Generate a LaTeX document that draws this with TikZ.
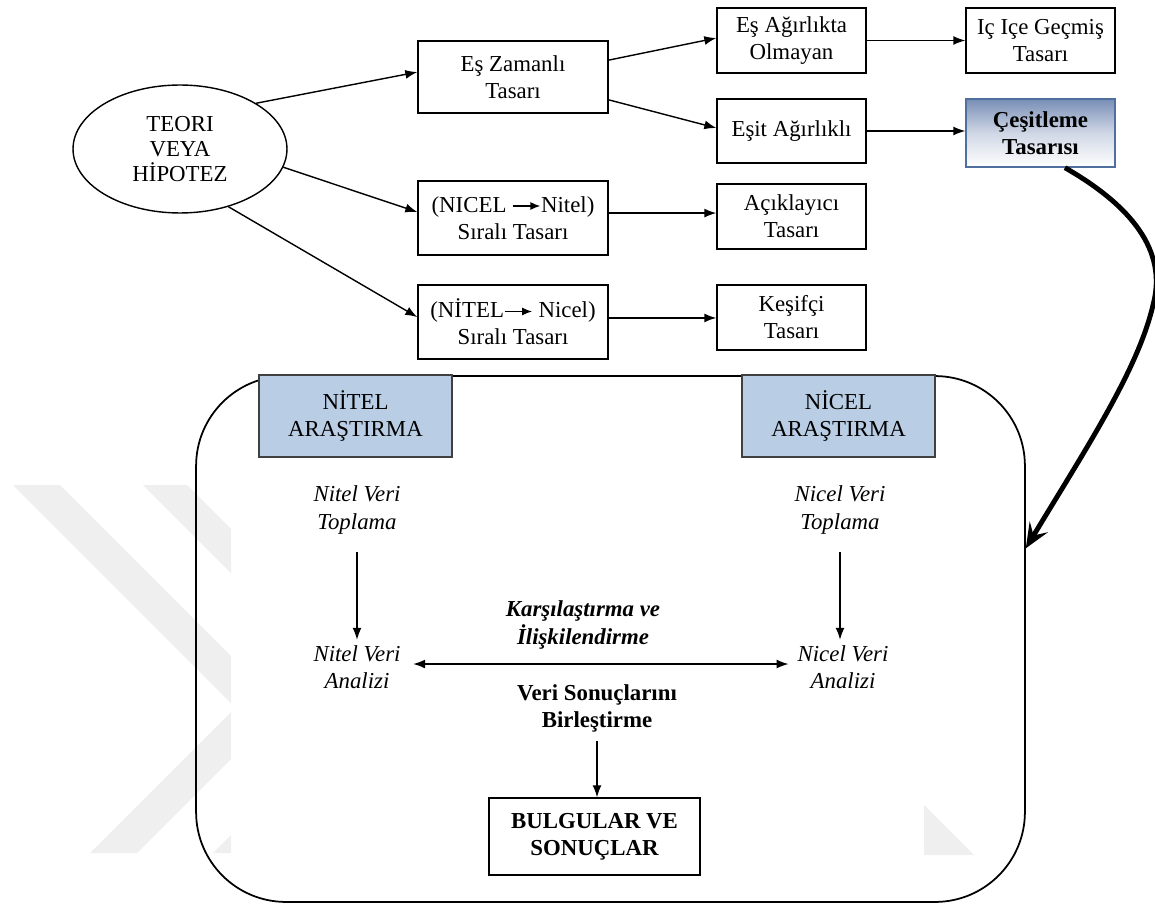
\documentclass[tikz,border=0pt]{standalone}
\usepackage{fontspec}
\setmainfont{Liberation Serif}
\usetikzlibrary{arrows.meta,shapes.geometric}

\definecolor{headfill}{RGB}{185,205,229}
\definecolor{headline}{RGB}{64,64,64}
\definecolor{shadetop}{RGB}{120,142,182}
\definecolor{shadeline}{RGB}{79,111,160}
\definecolor{wmark}{RGB}{239,239,239}

\newcommand{\txt}{\fontsize{13}{15.4}\selectfont}

\begin{document}
\begin{tikzpicture}[x=0.02cm,y=-0.02cm,
  font=\txt,
  box/.style={draw, line width=0.8pt, align=center, inner sep=2pt},
  smallbox/.style={box, minimum width=2.98cm, minimum height=1.3cm},
  widebox/.style={box, minimum width=3.8cm, minimum height=1.48cm},
  headbox/.style={draw=headline, line width=0.8pt, fill=headfill, align=center,
    minimum width=3.86cm, minimum height=1.64cm},
  label/.style={align=center, inner sep=3pt},
  arr/.style={-{Latex[length=0.24cm,width=0.18cm]}, line width=0.8pt},
  darr/.style={{Latex[length=0.24cm,width=0.18cm]}-{Latex[length=0.24cm,width=0.18cm]}, line width=0.8pt},
]
\useasboundingbox (0,0) rectangle (1155,905);

% faint background chevrons
\begin{scope}
  \clip (0,485) rectangle (231,853);
  \fill[wmark] (13,485) -- (60,485) -- (282.5,707.5) -- (137,853) -- (90,853) -- (235.5,707.5) -- cycle;
  \fill[wmark] (143,485) -- (187,485) -- (406,704) -- (257,853) -- (213,853) -- (362,704) -- cycle;
\end{scope}
\fill[wmark] (924,805) -- (974,855) -- (924,855) -- cycle;

% upper part: design types
\node[draw, ellipse, line width=0.8pt, align=center, minimum width=4.28cm, minimum height=2.56cm,
  font=\fontsize{13}{14.4}\selectfont] (th) at (180,149) {TEORI\\VEYA\\HİPOTEZ};

\node[widebox, minimum height=1.44cm] (ez) at (513,77) {Eş Zamanlı\\Tasarı};
\node[smallbox] (ea) at (791.5,40.5) {Eş Ağırlıkta\\Olmayan};
\node[smallbox] (ic) at (1040.5,40.5) {Iç Içe Geçmiş\\Tasarı};
\node[smallbox, minimum height=1.28cm] (eq) at (791.5,131) {Eşit Ağırlıklı};
\node[box, draw=shadeline, top color=shadetop, bottom color=white, middle color=shadetop!35,
  minimum width=2.98cm, minimum height=1.36cm, font=\txt\bfseries]
  (ce) at (1040.5,133) {Çeşitleme\\Tasarısı};

\node[widebox] (s1) at (513,218) {(NICEL \tikz[baseline=-0.6ex]\draw[-{Latex[length=0.2cm,width=0.16cm]}, line width=0.8pt] (0,0) -- (0.55cm,0);Nitel)\\Sıralı Tasarı};
\node[smallbox] (ac) at (791.5,216.5) {Açıklayıcı\\Tasarı};
\node[widebox] (s2) at (513,322) {(NİTEL\tikz[baseline=-0.6ex]\draw[-{Latex[length=0.2cm,width=0.16cm]}, line width=0.8pt] (0,0) -- (0.55cm,0); Nicel)\\Sıralı Tasarı};
\node[smallbox] (ke) at (791.5,317.5) {Keşifçi\\Tasarı};

\draw[arr] (th.31) -- ([yshift=2.8pt]ez.west);
\draw[arr] (th.-10) -- ([yshift=3.4pt]s1.west);
\draw[arr] (th.-50) -- ([yshift=2.8pt]s2.west);
\draw[arr] ([yshift=9.6pt]ez.east) -- ([yshift=1.4pt]ea.west);
\draw[arr] ([yshift=-13pt]ez.east) -- ([yshift=1.7pt]eq.west);
\draw[arr] (ea.east) -- (ic.west);
\draw[arr] (eq.east) -- (eq.east -| ce.west);
\draw[arr] ([yshift=2.8pt]s1.east) -- ([yshift=2.8pt]s1.east -| ac.west);
\draw[arr] ([yshift=2.3pt]s2.east) -- ([yshift=2.3pt]s2.east -| ke.west);

% lower part: the two research strands
\node[draw, line width=1pt, rounded corners=1.8cm, minimum width=16.58cm, minimum height=10.52cm]
  (frame) at (610.5,639) {};
\node[headbox] (nth) at (355.5,416) {NİTEL\\ARAŞTIRMA};
\node[headbox] (nch) at (838.5,416) {NİCEL\\ARAŞTIRMA};

\node[label, font=\txt\itshape] (nt1) at (357,510) {Nitel Veri\\Toplama};
\node[label, font=\txt\itshape] (nt2) at (357,667) {Nitel Veri\\Analizi};
\node[label, font=\txt\itshape] (nc1) at (840,510) {Nicel Veri\\Toplama};
\node[label, font=\txt\itshape] (nc2) at (843,667) {Nicel Veri\\Analizi};

\node[label, font=\txt\bfseries\itshape] (kar) at (583,625) {Karşılaştırma ve\\İlişkilendirme};
\node[label, font=\txt\bfseries] (vs) at (597,708) {Veri Sonuçlarını\\Birleştirme};
\node[box, minimum width=4.22cm, minimum height=1.54cm, font=\txt\bfseries]
  (bu) at (594.5,836.5) {BULGULAR VE\\SONUÇLAR};

\draw[arr, shorten <=7pt] (nt1.south) -- (nt2.north);
\draw[arr, shorten <=7pt] (nc1.south) -- (nc1.south |- nc2.north);
\draw[darr, shorten <=4pt, shorten >=2pt] ([yshift=1.7pt]nt2.east) -- ([yshift=1.7pt]nt2.east -| nc2.west);
\draw[arr, shorten <=2pt] (vs.south) -- (vs.south |- bu.north);

% from the triangulation design into the frame
\draw[line width=2.8pt, -{Stealth[length=0.5cm,width=0.42cm,inset=0.2cm]}]
  ([xshift=13.9pt]ce.south) .. controls (1130,205) and (1168,250) .. (1153,305)
  .. controls (1138,370) and (1085,450) .. ([yshift=51.6pt]frame.east);
\end{tikzpicture}
\end{document}
